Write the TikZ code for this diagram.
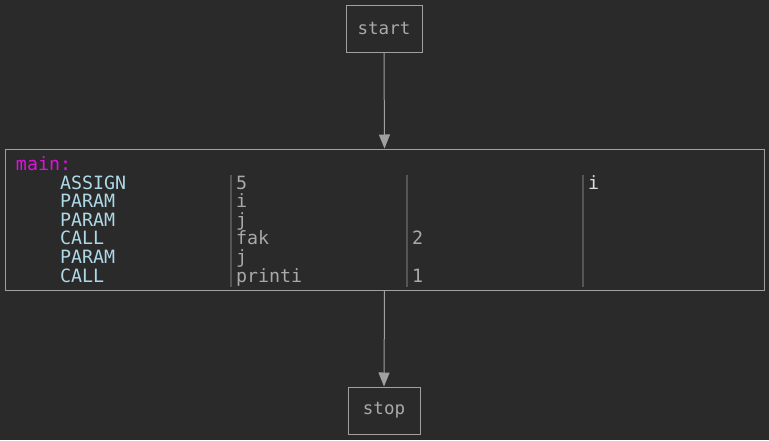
\documentclass[tikz,border=0pt]{standalone}
\usepackage{fontspec}
\setmonofont{DejaVu Sans Mono}
\usetikzlibrary{arrows.meta}
\definecolor{bg}{HTML}{2A2A2A}
\definecolor{edge}{HTML}{A0A0A0}
\definecolor{txt}{HTML}{A9A9A9}
\definecolor{opc}{HTML}{ADD8E6}
\definecolor{lbl}{HTML}{E010E0}
\definecolor{sep}{HTML}{555555}
\definecolor{hi}{HTML}{DCDCDC}
\tikzset{
  box/.style={draw=edge, line width=1pt, fill=bg, inner sep=0pt, text=txt, font=\ttfamily\fontsize{17.5pt}{18pt}\selectfont},
  cell/.style={anchor=base west, inner sep=0pt, outer sep=0pt, font=\ttfamily\fontsize{18.3pt}{18.6pt}\selectfont},
  op/.style={cell, text=opc},
  arg/.style={cell, text=txt},
  flow/.style={draw=edge, line width=1pt, -{Triangle[length=14pt,width=11pt]}},
  sepline/.style={draw=sep, line width=1.5pt}
}
\begin{document}
\begin{tikzpicture}[x=1pt,y=-1pt]
\fill[bg] (0,0) rectangle (769,440);
\useasboundingbox (0,0) rectangle (769,440);
\node[box, minimum width=76pt, minimum height=47pt] (start) at (384,28.5) {start};
\node[box, minimum width=759pt, minimum height=141pt] (main) at (384.5,219.5) {};
\node[box, minimum width=72pt, minimum height=47pt] (stop) at (384,410.5) {stop};
\draw[flow] (start.south) -- (main.north);
\draw[flow] (main.south) -- (stop.north);
% separators
\draw[sepline] (231,175) -- (231,287);
\draw[sepline] (407,175) -- (407,287);
\draw[sepline] (583,175) -- (583,287);
% label
\node[cell, text=lbl] (lmain) at (16,170.4) {main:};
% rows
\node[op] (o1) at (60,189.0) {ASSIGN};
\node[op] (o2) at (60,207.6) {PARAM};
\node[op] (o3) at (60,226.2) {PARAM};
\node[op] (o4) at (60,244.8) {CALL};
\node[op] (o5) at (60,263.4) {PARAM};
\node[op] (o6) at (60,282.0) {CALL};
\node[arg] (a1) at (236,189.0) {5};
\node[arg] (a2) at (236,207.6) {i};
\node[arg] (a3) at (236,226.2) {j};
\node[arg] (a4) at (236,244.8) {fak};
\node[arg] (a5) at (236,263.4) {j};
\node[arg] (a6) at (236,282.0) {printi};
\node[arg] (b4) at (412,244.8) {2};
\node[arg] (b6) at (412,282.0) {1};
\node[cell, text=hi] (c1) at (588,189.0) {i};
\end{tikzpicture}
\end{document}
